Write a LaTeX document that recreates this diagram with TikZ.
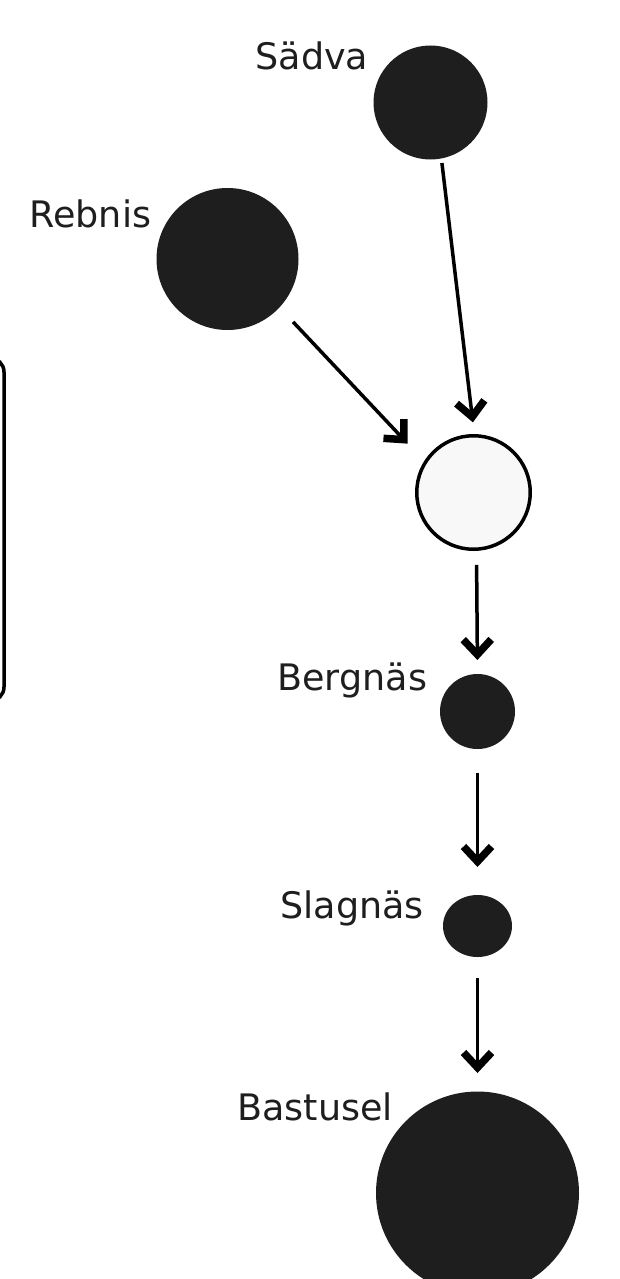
\documentclass[tikz,border=0pt]{standalone}
\usepackage{fontspec}
\setmainfont{DejaVu Sans}
\usetikzlibrary{arrows.meta,shapes.geometric}
\definecolor{dotfill}{RGB}{30,30,30}
\definecolor{openfill}{RGB}{248,248,248}
\begin{document}
\begin{tikzpicture}[x=1pt,y=-1pt,
  dot/.style={circle,fill=dotfill,draw=none,inner sep=0pt,outer sep=0pt},
  hollow/.style={circle,fill=openfill,draw=black,line width=3.5pt,inner sep=0pt,outer sep=0pt,minimum size=113.5pt},
  lbl/.style={anchor=base west,inner sep=0pt,outer sep=0pt,text=dotfill,font=\fontsize{36.5}{44}\selectfont},
  arr/.style={draw=black,line width=3.5pt,-{Straight Barb[length=15pt,width=28pt,line width=7.5pt]}},
  frame/.style={draw=black,line width=3.5pt,rounded corners=14pt}]
\useasboundingbox (0,0) rectangle (619,1279);
\clip (0,0) rectangle (619,1279);
\fill[white] (0,0) rectangle (619,1279);
% left frame (mostly outside the picture)
\draw[frame] (-200,358) rectangle (4,701);
% nodes
\node[dot,minimum size=114pt] (sadva) at (430.5,102.5) {};
\node[dot,minimum size=142pt] (rebnis) at (227.5,259) {};
\node[hollow] (hub) at (473.5,492.5) {};
\node[dot,minimum size=75pt] (bergnas) at (477.5,711.5) {};
\node[dot,ellipse,minimum width=69pt,minimum height=62pt] (slagnas) at (477.5,926) {};
\node[dot,minimum size=203pt] (bastusel) at (477.5,1193) {};
% labels
\node[lbl] (tsadva) at (255.5,70) {Sädva};
\node[lbl] (trebnis) at (29.5,227) {Rebnis};
\node[lbl] (tbergnas) at (277.5,690) {Bergnäs};
\node[lbl] (tslagnas) at (280.5,918) {Slagnäs};
\node[lbl] (tbastusel) at (237.5,1120) {Bastusel};
% connectors
\draw[arr,shorten <=4.6pt,shorten >=13.5pt] (sadva.-79.2) -- (hub.89.6);
\draw[arr,shorten <=19.9pt,shorten >=25.8pt] (rebnis.-43.9) -- (hub.148.3);
\draw[arr,shorten <=15.6pt,shorten >=14pt] (hub.-87.2) -- (bergnas.north);
\draw[arr,shorten <=24pt,shorten >=28pt] (bergnas.south) -- (slagnas.north);
\draw[arr,shorten <=21pt,shorten >=18.5pt] (slagnas.south) -- (bastusel.north);
\end{tikzpicture}
\end{document}
